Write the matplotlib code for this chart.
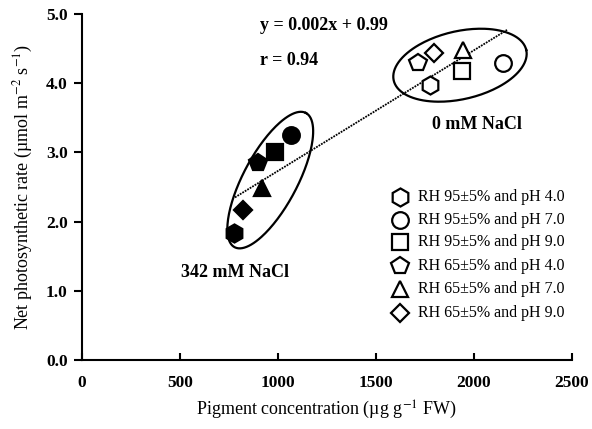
import numpy as np
import matplotlib
matplotlib.use("Agg")
import matplotlib.pyplot as plt

plt.rcParams["font.family"] = ["Liberation Serif", "DejaVu Serif"]
plt.rcParams["mathtext.fontset"] = "stix"

# legend labels, one per condition
labels = [
    "RH 95\u00b15% and pH 4.0",
    "RH 95\u00b15% and pH 7.0",
    "RH 95\u00b15% and pH 9.0",
    "RH 65\u00b15% and pH 4.0",
    "RH 65\u00b15% and pH 7.0",
    "RH 65\u00b15% and pH 9.0",
]
markers = ["h", "o", "s", "p", "^", "D"]

# 0 mM NaCl (open symbols)
x_0mM = [1775, 2150, 1940, 1715, 1945, 1795]
y_0mM = [3.97, 4.29, 4.18, 4.29, 4.48, 4.44]

# 342 mM NaCl (filled symbols)
x_342mM = [775, 1070, 985, 900, 920, 825]
y_342mM = [1.83, 3.25, 3.01, 2.84, 2.48, 2.17]

# trend line ends (as drawn)
trend_x = [782, 2170]
trend_y = [2.35, 4.77]

W, H = 592, 429
fig = plt.figure(figsize=(W / 100, H / 100), dpi=100)
ax_l, ax_b, ax_w, ax_h = 81.7 / W, 69 / H, 490 / W, 346 / H
ax = fig.add_axes([ax_l, ax_b, ax_w, ax_h])
ax.set_xlim(0, 2500)
ax.set_ylim(0, 5.0)

# pixels per data unit
sx = ax_w * W / 2500
sy = ax_h * H / 5.0

ax.plot(trend_x, trend_y, color="black", lw=1.3, ls=(0, (1, 0.6)), zorder=2)

sizes = {"h": 13, "o": 12, "s": 12, "p": 13, "^": 12, "D": 9.5}

for i in range(6):
    m = markers[i]
    ax.plot(x_0mM[i], y_0mM[i], marker=m, ms=sizes[m],
            mfc="white", mec="black", mew=1.6, ls="none", zorder=3)
    ax.plot(x_342mM[i], y_342mM[i], marker=m, ms=sizes[m],
            mfc="black", mec="black", mew=1.6, ls="none", zorder=3)


def draw_ellipse(cx, cy, a_px, b_px, ang_deg):
    t = np.linspace(0, 2 * np.pi, 200)
    th = np.deg2rad(ang_deg)
    px = a_px * np.cos(t) * np.cos(th) - b_px * np.sin(t) * np.sin(th)
    py = a_px * np.cos(t) * np.sin(th) + b_px * np.sin(t) * np.cos(th)
    ax.plot(cx + px / sx, cy + py / sy, color="black", lw=1.6, zorder=2)


draw_ellipse(1930, 4.26, 68, 34, 13)
draw_ellipse(962, 2.60, 76, 27, 62)

# legend drawn by hand to match the figure
leg_y = [2.36, 2.03, 1.70, 1.36, 1.02, 0.68]
for i in range(6):
    m = markers[i]
    ax.plot(1624, leg_y[i], marker=m, ms=sizes[m],
            mfc="white", mec="black", mew=1.6, ls="none")
    ax.text(1716, leg_y[i], labels[i], fontsize=11.5, va="center", ha="left")

ax.text(910, 4.84, "y = 0.002x + 0.99", fontsize=13, fontweight="bold",
        va="center")
ax.text(910, 4.33, "r = 0.94", fontsize=13, fontweight="bold", va="center")
ax.text(1787, 3.40, "0 mM NaCl", fontsize=13, fontweight="bold", va="center")
ax.text(783, 1.27, "342 mM NaCl", fontsize=13, fontweight="bold",
        va="center", ha="center")

ax.set_xticks(np.arange(0, 2501, 500))
ax.set_yticks(np.arange(0, 5.01, 1.0))
ax.set_yticklabels([f"{v:.1f}" for v in np.arange(0, 5.01, 1.0)])
for lab in ax.get_xticklabels() + ax.get_yticklabels():
    lab.set_fontweight("bold")
    lab.set_fontsize(12.5)

ax.spines["top"].set_visible(False)
ax.spines["right"].set_visible(False)
ax.spines["left"].set_linewidth(1.5)
ax.spines["bottom"].set_linewidth(1.5)
ax.tick_params(axis="x", direction="in", length=5, width=1.5, pad=11)
ax.tick_params(axis="y", direction="out", length=6, width=1.5, pad=4)

ax.set_xlabel("Pigment concentration (\u00b5g g$^{-1}$ FW)", fontsize=13,
              labelpad=5)
ax.set_ylabel("Net photosynthetic rate (\u00b5mol m$^{-2}$ s$^{-1}$)",
              fontsize=13, labelpad=8)

fig.savefig("out.png", dpi=100)
